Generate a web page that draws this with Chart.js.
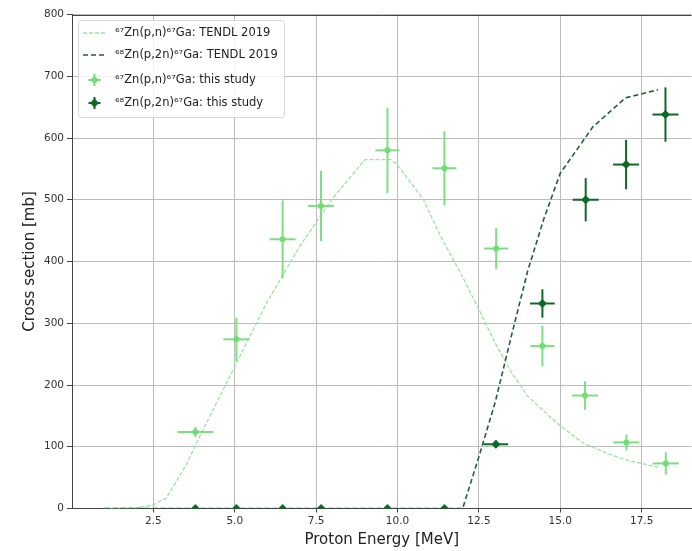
<!DOCTYPE html>
<html><head><meta charset="utf-8">
<script src="https://cdn.jsdelivr.net/npm/chart.js@4.4.0/dist/chart.umd.min.js"></script>
<style>html,body{margin:0;padding:0;background:#fff;overflow:hidden}#wrap{width:692px;height:551px;overflow:hidden}</style>
</head><body>
<div id="wrap"><canvas id="c" width="696" height="551"></canvas></div>
<script>
const seriesNames = [
  '\u2076\u2077Zn(p,n)\u2076\u2077Ga: TENDL 2019',
  '\u2076\u2078Zn(p,2n)\u2076\u2077Ga: TENDL 2019',
  '\u2076\u2077Zn(p,n)\u2076\u2077Ga: this study',
  '\u2076\u2078Zn(p,2n)\u2076\u2077Ga: this study'
];
const xTitle = 'Proton Energy [MeV]';
const yTitle = 'Cross section [mb]';

// TENDL 2019 curves
const tendlPnE  = [1.0, 2.0, 2.5, 2.9, 3.5, 4.0, 5.0, 6.0, 7.0, 8.0, 9.0, 9.8, 10.0, 10.8, 11.3, 12.0, 12.5, 13.0, 13.5, 14.0, 14.9, 15.7, 16.5, 17.0, 18.0];
const tendlPnXS = [0, 1, 6, 17, 70, 125, 230, 335, 425, 502, 565, 565, 556, 500, 443, 375, 322, 268, 220, 182, 138, 106, 88, 79, 67];
const tendlP2nE  = [1.0, 12.0, 12.5, 13.0, 13.5, 14.0, 14.5, 15.0, 16.0, 17.0, 18.0];
const tendlP2nXS = [0, 0, 84, 172, 280, 385, 470, 543, 618, 665, 678];

// measured data (this study)
const pnE    = [3.79, 5.05, 6.47, 7.65, 9.69, 11.44, 13.03, 14.45, 15.76, 17.03, 18.24];
const pnXS   = [124, 274, 436, 490, 580, 551, 421, 263, 183, 107, 73];
const pnXerr = [0.55, 0.4, 0.4, 0.4, 0.37, 0.37, 0.37, 0.37, 0.4, 0.4, 0.4];
const pnYerr = [8, 35, 63, 57, 69, 60, 33, 33, 23, 13, 18];
const p2nE    = [3.79, 5.05, 6.47, 7.65, 9.69, 11.44, 13.02, 14.45, 15.78, 17.02, 18.23];
const p2nXS   = [0, 0, 0, 0, 0, 0, 104, 332, 500, 557, 638];
const p2nXerr = [0, 0, 0, 0, 0, 0, 0.38, 0.38, 0.4, 0.4, 0.4];
const p2nYerr = [0, 0, 0, 0, 0, 0, 6, 23, 35, 40, 44];

const xTicks = [2.5, 5.0, 7.5, 10.0, 12.5, 15.0, 17.5];
const yTicks = [0, 100, 200, 300, 400, 500, 600, 700, 800];

const cLightLine = 'rgba(150,228,150,0.95)';
const cDarkLine = '#235f38';
const cLightPt = '#72dc76';
const cDarkPt = '#0d6a24';

const toXY = (xs, ys) => xs.map((x, i) => ({x: x, y: ys[i]}));

const errPlugin = {
  id: 'errbars',
  beforeDatasetDraw(chart, args) {
    const ds = chart.data.datasets[args.index];
    if (!ds.xerr) return;
    const xs = chart.scales.x, ys = chart.scales.y, ctx = chart.ctx;
    ctx.save();
    ctx.strokeStyle = ds.errColor;
    ctx.lineWidth = 2;
    ds.data.forEach((p, i) => {
      const px = xs.getPixelForValue(p.x), py = ys.getPixelForValue(p.y);
      if (ds.xerr[i] > 0) {
        ctx.beginPath();
        ctx.moveTo(xs.getPixelForValue(p.x - ds.xerr[i]), py);
        ctx.lineTo(xs.getPixelForValue(p.x + ds.xerr[i]), py);
        ctx.stroke();
      }
      if (ds.yerr[i] > 0) {
        ctx.beginPath();
        ctx.moveTo(px, ys.getPixelForValue(p.y - ds.yerr[i]));
        ctx.lineTo(px, ys.getPixelForValue(p.y + ds.yerr[i]));
        ctx.stroke();
      }
    });
    ctx.restore();
  }
};

const framePlugin = {
  id: 'frame',
  beforeDatasetsDraw(chart) {
    const a = chart.chartArea, ctx = chart.ctx;
    ctx.save();
    ctx.strokeStyle = '#444';
    ctx.lineWidth = 1;
    ctx.beginPath();
    ctx.moveTo(a.left, Math.round(a.top) + 0.5);
    ctx.lineTo(a.right, Math.round(a.top) + 0.5);
    ctx.stroke();
    ctx.restore();
  }
};

const legendPlugin = {
  id: 'customLegend',
  afterDraw(chart) {
    const ctx = chart.ctx;
    ctx.save();
    const bx = 78.5, by = 20.5, bw = 206, bh = 97, r = 3;
    ctx.beginPath();
    ctx.moveTo(bx + r, by);
    ctx.lineTo(bx + bw - r, by); ctx.arcTo(bx + bw, by, bx + bw, by + r, r);
    ctx.lineTo(bx + bw, by + bh - r); ctx.arcTo(bx + bw, by + bh, bx + bw - r, by + bh, r);
    ctx.lineTo(bx + r, by + bh); ctx.arcTo(bx, by + bh, bx, by + bh - r, r);
    ctx.lineTo(bx, by + r); ctx.arcTo(bx, by, bx + r, by, r);
    ctx.closePath();
    ctx.fillStyle = 'rgba(255,255,255,0.85)';
    ctx.fill();
    ctx.strokeStyle = '#d6d6d6';
    ctx.lineWidth = 1;
    ctx.stroke();

    const rows = [33, 55, 80, 103];
    [[cLightLine, 1.3, [4, 2]], [cDarkLine, 1.6, [5, 3]]].forEach((s, i) => {
      ctx.strokeStyle = s[0]; ctx.lineWidth = s[1]; ctx.setLineDash(s[2]);
      ctx.beginPath(); ctx.moveTo(83, rows[i]); ctx.lineTo(106, rows[i]); ctx.stroke();
    });
    ctx.setLineDash([]);
    [[cLightPt, 'c'], [cDarkPt, 'd']].forEach((s, j) => {
      const y = rows[j + 2], x = 94.5;
      ctx.strokeStyle = s[0]; ctx.fillStyle = s[0]; ctx.lineWidth = 2;
      ctx.beginPath(); ctx.moveTo(x - 6, y); ctx.lineTo(x + 6, y); ctx.stroke();
      ctx.beginPath(); ctx.moveTo(x, y - 6); ctx.lineTo(x, y + 6); ctx.stroke();
      ctx.beginPath();
      if (s[1] === 'c') { ctx.arc(x, y, 3, 0, Math.PI * 2); }
      else { ctx.moveTo(x, y - 4.5); ctx.lineTo(x + 4.5, y); ctx.lineTo(x, y + 4.5); ctx.lineTo(x - 4.5, y); ctx.closePath(); }
      ctx.fill();
    });
    ctx.fillStyle = '#222';
    ctx.font = '11.5px "DejaVu Sans", sans-serif';
    ctx.textBaseline = 'middle';
    seriesNames.forEach((t, i) => ctx.fillText(t, 115, rows[i]));
    ctx.restore();
  }
};

const gridColor = 'rgba(176,176,176,0.85)';

new Chart(document.getElementById('c'), {
  type: 'scatter',
  data: {
    datasets: [
      { label: seriesNames[0], type: 'line', data: toXY(tendlPnE, tendlPnXS), borderColor: cLightLine,
        borderWidth: 1.3, borderDash: [4, 2], pointRadius: 0, fill: false, tension: 0, order: 3 },
      { label: seriesNames[1], type: 'line', data: toXY(tendlP2nE, tendlP2nXS), borderColor: cDarkLine,
        borderWidth: 1.6, borderDash: [5, 3], pointRadius: 0, fill: false, tension: 0, order: 2 },
      { label: seriesNames[2], data: toXY(pnE, pnXS), xerr: pnXerr, yerr: pnYerr, errColor: 'rgba(110,220,115,0.9)',
        pointStyle: 'circle', pointRadius: 3, backgroundColor: cLightPt, borderColor: cLightPt, borderWidth: 0, order: 1 },
      { label: seriesNames[3], data: toXY(p2nE, p2nXS), xerr: p2nXerr, yerr: p2nYerr, errColor: cDarkPt,
        pointStyle: 'rectRot', pointRadius: 4.5, backgroundColor: cDarkPt, borderColor: cDarkPt, borderWidth: 0, order: 0 }
    ]
  },
  options: {
    responsive: false,
    animation: false,
    devicePixelRatio: 1,
    layout: { padding: { top: 14.5, left: 0, right: 0, bottom: 0 } },
    plugins: { legend: { display: false }, tooltip: { enabled: false } },
    scales: {
      x: {
        type: 'linear', min: 0, max: 19.03,
        afterBuildTicks: s => { s.ticks = xTicks.map(v => ({ value: v })); },
        afterFit: s => { s.height = 42.5; },
        ticks: { callback: v => Number(v).toFixed(1), font: { size: 10.5, family: 'DejaVu Sans' }, color: '#333', maxRotation: 0, autoSkip: false, padding: 2 },
        grid: { color: gridColor, tickColor: '#444', tickLength: 4 },
        border: { color: '#444', width: 1 },
        title: { display: true, text: xTitle, font: { size: 15, family: 'DejaVu Sans' }, color: '#222', padding: { top: 0, bottom: 2 } }
      },
      y: {
        type: 'linear', min: 0, max: 800,
        afterBuildTicks: s => { s.ticks = yTicks.map(v => ({ value: v })); },
        afterFit: s => { s.width = 72; },
        ticks: { font: { size: 10.5, family: 'DejaVu Sans' }, color: '#333', padding: 3 },
        grid: { color: gridColor, tickColor: '#444', tickLength: 5 },
        border: { color: '#444', width: 1 },
        title: { display: true, text: yTitle, font: { size: 15, family: 'DejaVu Sans' }, color: '#222', padding: { top: 21, bottom: 0 } }
      }
    }
  },
  plugins: [errPlugin, framePlugin, legendPlugin]
});
</script>
</body></html>
